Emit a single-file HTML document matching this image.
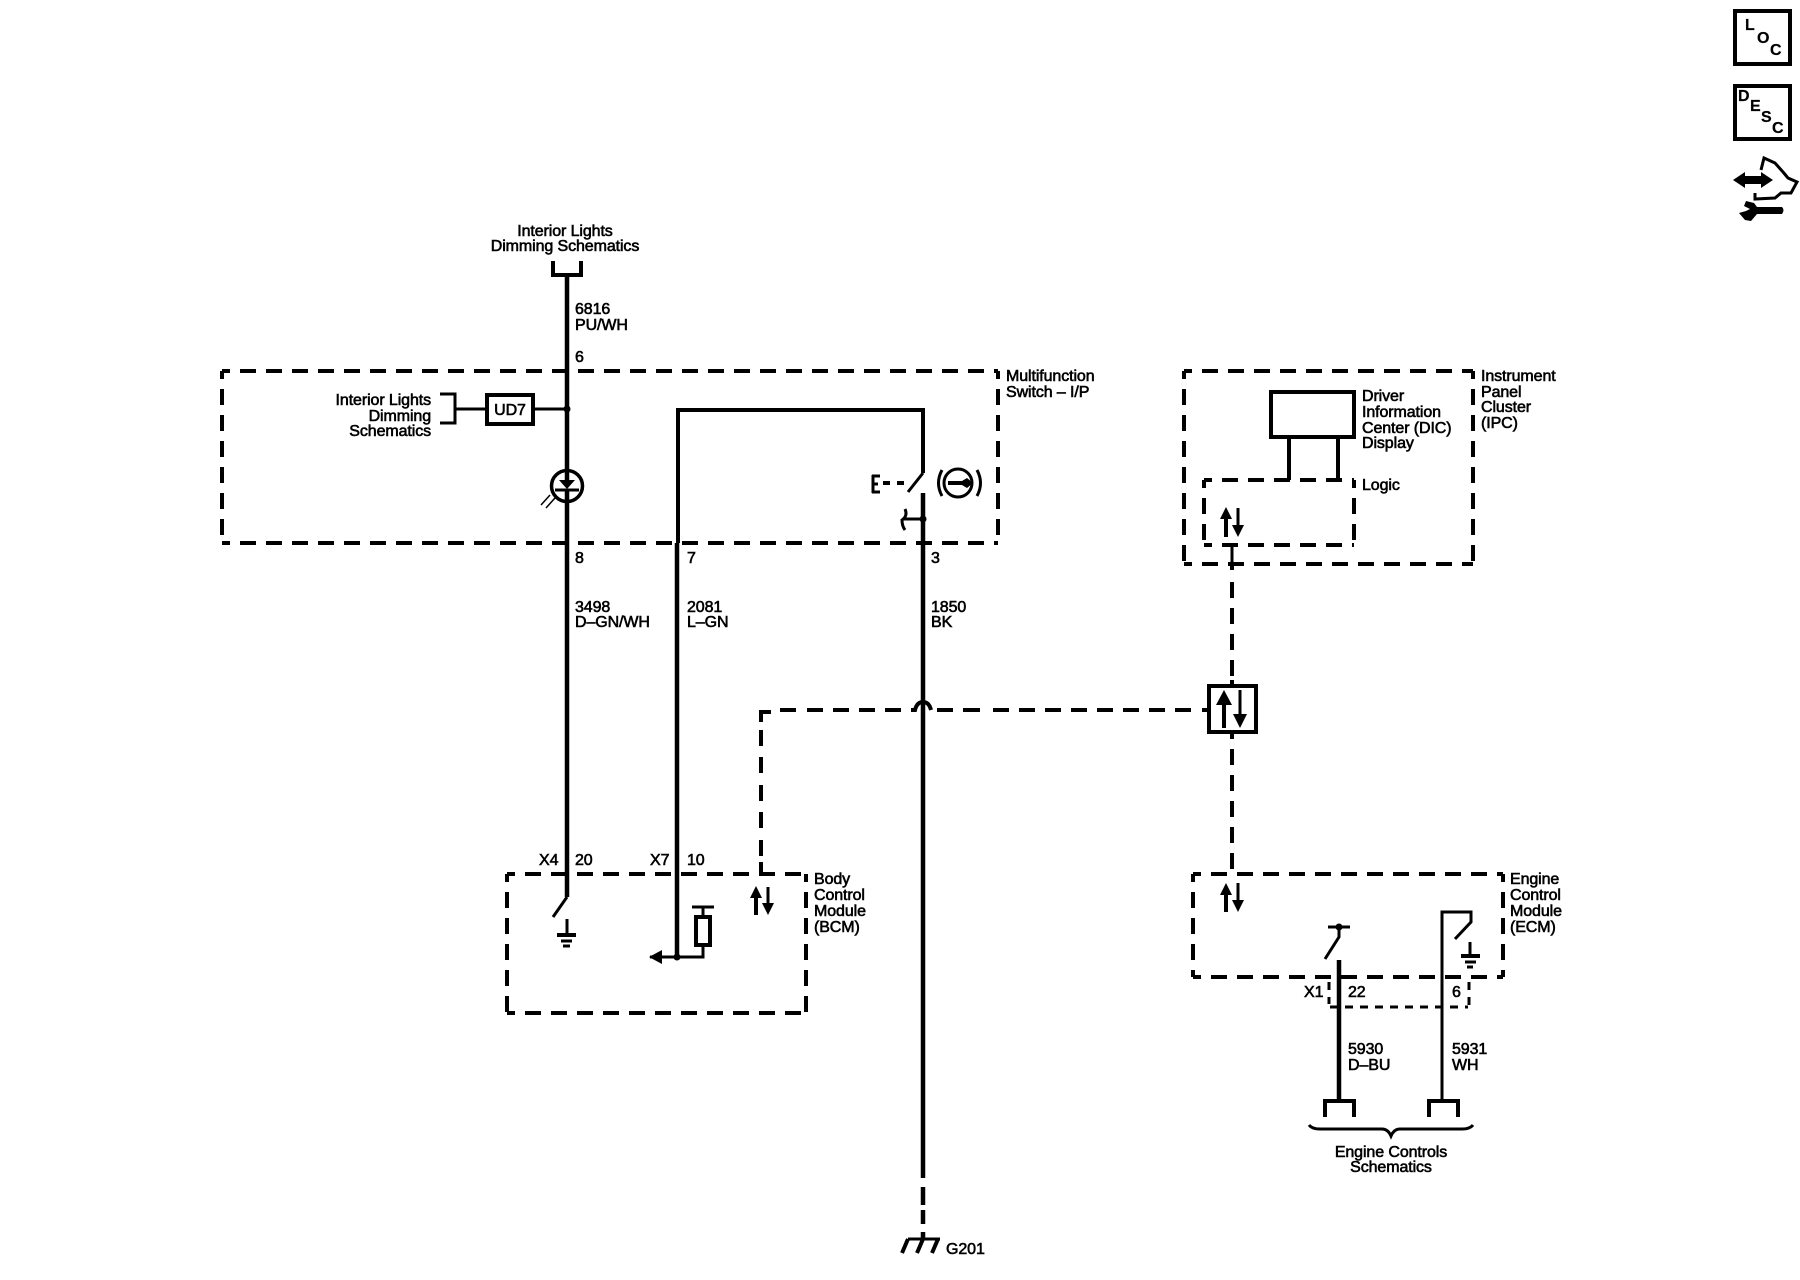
<!DOCTYPE html>
<html><head><meta charset="utf-8"><style>
html,body{margin:0;padding:0;background:#fff}
svg{display:block}
text{font-family:"Liberation Sans",sans-serif;font-size:16px;fill:#000;stroke:#000;stroke-width:.6px;letter-spacing:-.1px}
.s{fill:none;stroke:#000;stroke-width:3px}
.w{fill:none;stroke:#000;stroke-width:4.5px}
.b{fill:none;stroke:#000;stroke-width:4px}
.d{fill:none;stroke:#000;stroke-width:4px;stroke-dasharray:16 10;stroke-dashoffset:8}
.t{fill:none;stroke:#000;stroke-width:3px;stroke-dasharray:8 7}
.f{fill:#000;stroke:none}
.m{text-anchor:middle}.e{text-anchor:end}
.i{font-weight:bold;font-size:16px;stroke-width:.2px}
</style></head><body>
<svg width="1800" height="1280" viewBox="0 0 1800 1280" xmlns="http://www.w3.org/2000/svg">
<!-- Multifunction box -->
<path class="d" d="M222 371H998M222 371V543M222 543H998M998 371V543"/>
<!-- IPC -->
<path class="d" d="M1184 371H1473M1184 371V564M1184 564H1473M1473 371V564"/>
<path class="d" d="M1204 480H1354M1204 480V545M1204 545H1354M1354 480V545"/>
<!-- BCM -->
<path class="d" d="M507 874H806M507 874V1013M507 1013H806M806 874V1013"/>
<!-- ECM -->
<path class="d" d="M1193 874H1503M1193 874V977M1193 977H1503M1503 874V977"/>
<path class="t" d="M1329 982V1004M1330 1007H1468M1469 982V1007"/>

<!-- Top connector and main wire -->
<path class="b" d="M553 261V275H581V261"/>
<path class="w" d="M567 275V897"/>
<path class="s" d="M567 897L553 917"/>
<path class="s" d="M567 919V935"/>
<path class="b" d="M557 935H576"/><path class="s" d="M561 941H572M563 946H570"/>
<!-- UD7 -->
<path class="s" d="M440 394H455V423H440M455 409H487M533 409H567"/>
<rect x="487" y="395" width="46" height="29" class="b"/>
<circle cx="567" cy="409" r="3.5" class="f"/>
<text x="510" y="415" class="m">UD7</text>
<!-- Lamp -->
<circle cx="567" cy="486" r="15.5" fill="#fff" stroke="#000" stroke-width="3.5"/>
<path class="w" d="M567 470V480M567 490V502"/>
<path class="f" d="M559 480H575L567 489Z"/>
<path class="s" d="M555 490H579"/>
<path d="M541 505L550 495M546 508L555 498" stroke="#000" stroke-width="1.5" fill="none"/>
<!-- Wire 2 -->
<path class="b" d="M678 543V410H923V473"/>
<path class="s" d="M923 473L908 492"/>
<path class="w" d="M677 543V957"/>
<path class="s" d="M650 957H703V945M703 916V907M692 907H714"/>
<path class="f" d="M649 957L662 950V964Z"/>
<circle cx="677" cy="957" r="3.5" class="f"/>
<rect x="696" y="917" width="14" height="28" class="b"/>
<!-- Wire 3 -->
<path class="w" d="M923 493V1178"/>
<path class="w" d="M923 1187V1205M923 1210V1224M923 1232V1240"/>
<path class="s" d="M908 1239H940"/>
<path class="b" d="M908 1239L902 1253M923 1239L917 1253M938 1239L932 1253"/>
<!-- Switch actuator -->
<path class="s" d="M873 475V493M872 476H880M872 484H878M872 492H880"/>
<path class="b" d="M883 483H890M897 483H904"/>
<circle cx="958" cy="483" r="14" fill="none" stroke="#000" stroke-width="3"/>
<path class="s" d="M942 470Q935 483 942 496M977 470Q984 483 977 496"/>
<path class="f" d="M948 481H962L967 478L973 483L967 488L962 485H948Z"/>
<path class="s" d="M903 519H923M905 509Q908 516 902 520Q902 526 905 530"/>
<circle cx="923" cy="519" r="3.5" class="f"/>
<!-- DIC -->
<rect x="1271" y="392" width="83" height="45" class="b"/>
<path class="b" d="M1289 437V480M1338 437V480"/>
<!-- Logic arrows -->
<path class="b" d="M1226 537V515"/><path class="f" d="M1226 507L1220 519H1232Z"/>
<path class="s" d="M1238 508V530"/><path class="f" d="M1238 537L1232 525H1244Z"/>
<!-- data bus -->
<path class="s" d="M1232 546V564"/>
<path class="b" d="M1232 564V570"/>
<path class="b" d="M1232 582V598M1232 608V624M1232 634V650M1232 660V676M1232 680V686"/>
<rect x="1209" y="686" width="47" height="46" class="b"/>
<path class="b" d="M1224 728V702"/><path class="f" d="M1224 690L1216 705H1232Z"/>
<path class="s" d="M1240 690V718"/><path class="f" d="M1240 728L1233 714H1247Z"/>
<path class="b" d="M1232 732V739M1232 749V765M1232 775V791M1232 801V817M1232 827V843M1232 853V869"/>
<path class="b" d="M1202 710H1209M1175 710H1191M1149 710H1165M1123 710H1139M1097 710H1113M1071 710H1087M1045 710H1061M1019 710H1035M993 710H1009M963 710H980M937 710H953"/>
<path class="b" d="M911 710H915Q917 702 923 702Q929 702 931 710"/>
<path class="b" d="M885 710H901M859 710H875M833 710H849M807 710H823M780 710H796"/>
<path class="b" d="M761 722V712H771M761 730V746M761 757V773M761 785V801M761 812V828M761 840V856M761 862V874"/>
<!-- BCM arrows -->
<path class="b" d="M756 915V895"/><path class="f" d="M756 886L750 898H762Z"/>
<path class="s" d="M768 887V907"/><path class="f" d="M768 915L762 903H774Z"/>
<!-- ECM arrows -->
<path class="b" d="M1226 912V892"/><path class="f" d="M1226 883L1220 895H1232Z"/>
<path class="s" d="M1238 883V904"/><path class="f" d="M1238 912L1232 900H1244Z"/>
<!-- ECM wires -->
<path class="w" d="M1339 960V1101"/>
<path class="s" d="M1325 959L1339 937V927M1328 927H1350"/>
<circle cx="1339" cy="927" r="3.5" class="f"/>
<path class="s" d="M1442 1101V912H1471V922L1455 939"/>
<path class="s" d="M1470 942V956"/>
<path class="b" d="M1461 956H1480"/><path class="s" d="M1465 962H1476M1467 967H1473"/>
<path class="b" d="M1325 1117V1101H1354V1117M1429 1117V1101H1458V1117"/>
<path class="s" d="M1309 1125Q1312 1129 1320 1129H1382Q1388 1129 1391 1136Q1394 1129 1400 1129H1462Q1470 1129 1473 1125"/>

<!-- Labels -->
<text x="565" y="236" class="m">Interior Lights</text>
<text x="565" y="251" class="m">Dimming Schematics</text>
<text x="575" y="314">6816</text><text x="575" y="330">PU/WH</text>
<text x="575" y="362">6</text>
<text x="431" y="405" class="e">Interior Lights</text>
<text x="431" y="421" class="e">Dimming</text>
<text x="431" y="436" class="e">Schematics</text>
<text x="1006" y="381">Multifunction</text>
<text x="1006" y="397">Switch – I/P</text>
<text x="575" y="563">8</text><text x="687" y="563">7</text><text x="931" y="563">3</text>
<text x="575" y="612">3498</text><text x="575" y="627">D–GN/WH</text>
<text x="687" y="612">2081</text><text x="687" y="627">L–GN</text>
<text x="931" y="612">1850</text><text x="931" y="627">BK</text>
<text x="539" y="865">X4</text><text x="575" y="865">20</text>
<text x="650" y="865">X7</text><text x="687" y="865">10</text>
<text x="814" y="884">Body</text><text x="814" y="900">Control</text><text x="814" y="916">Module</text><text x="814" y="932">(BCM)</text>
<text x="946" y="1254">G201</text>
<text x="1481" y="381">Instrument</text><text x="1481" y="397">Panel</text><text x="1481" y="412">Cluster</text><text x="1481" y="428">(IPC)</text>
<text x="1362" y="401">Driver</text><text x="1362" y="417">Information</text><text x="1362" y="433">Center (DIC)</text><text x="1362" y="448">Display</text>
<text x="1362" y="490">Logic</text>
<text x="1510" y="884">Engine</text><text x="1510" y="900">Control</text><text x="1510" y="916">Module</text><text x="1510" y="932">(ECM)</text>
<text x="1304" y="997">X1</text><text x="1348" y="997">22</text><text x="1452" y="997">6</text>
<text x="1348" y="1054">5930</text><text x="1348" y="1070">D–BU</text>
<text x="1452" y="1054">5931</text><text x="1452" y="1070">WH</text>
<text x="1391" y="1157" class="m">Engine Controls</text>
<text x="1391" y="1172" class="m">Schematics</text>

<!-- Top right icons -->
<rect x="1735" y="11" width="55" height="53" class="b"/>
<text x="1745" y="30" class="i">L</text><text x="1757" y="43" class="i">O</text><text x="1770" y="55" class="i">C</text>
<rect x="1735" y="86" width="55" height="53" class="b"/>
<text x="1738" y="101" class="i">D</text><text x="1750" y="111" class="i">E</text><text x="1761" y="122" class="i">S</text><text x="1772" y="133" class="i">C</text>
<path class="f" d="M1733 180L1745 172V176H1761V172L1773 180L1761 188V184H1745V188Z"/>
<path class="s" d="M1761 170L1764 158L1775 163L1783 172L1788 178L1797 182L1791 193L1781 193L1775 198L1755 199V193"/>
<path class="f" d="M1746 201L1754 203L1757 207H1782Q1785 210 1782 214H1757L1751 221L1745 220L1739 213L1746 211L1750 209L1744 206Z"/>
</svg>
</body></html>
